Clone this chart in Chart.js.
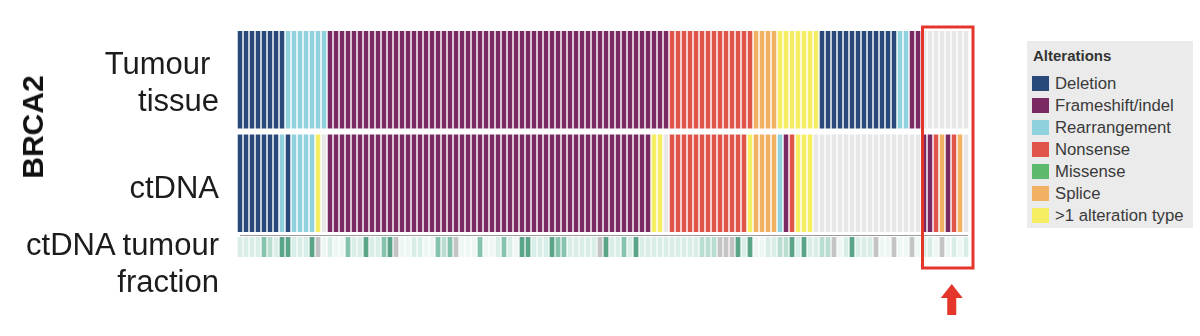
<!DOCTYPE html>
<html>
<head>
<meta charset="utf-8">
<script src="https://cdn.jsdelivr.net/npm/chart.js@4.4.1/dist/chart.umd.min.js"></script>
<style>
  html, body { margin: 0; padding: 0; background: #ffffff; }
  #wrap { position: relative; width: 1200px; height: 336px; overflow: hidden; font-family: "Liberation Sans", Arial, sans-serif; }
  canvas { position: absolute; left: 0; top: 0; }
  .lbl { position: absolute; right: 981px; font-size: 31px; line-height: 37px; color: #1c1c1c; text-align: right; white-space: pre; }
  #gene { position: absolute; left: 33px; top: 127px; font-size: 30px; font-weight: bold; color: #111; transform: translate(-50%, -50%) rotate(-90deg); white-space: nowrap; line-height: 30px; }
  #legend { position: absolute; left: 1027px; top: 41px; width: 166px; height: 187px; background: #ebebeb; }
  #legend .ttl { position: absolute; left: 6px; top: 6px; font-size: 15px; font-weight: bold; color: #333; }
  #legend .it { position: absolute; left: 5px; height: 17px; }
  #legend .sw { position: absolute; left: 0; top: 0; width: 17px; height: 15px; }
  #legend .tx { position: absolute; left: 23px; top: -2px; font-size: 16.7px; color: #3a3a3a; white-space: nowrap; line-height: 19px; }
</style>
</head>
<body>
<div id="wrap">
  <canvas id="c" width="1200" height="336"></canvas>
  <div id="gene">BRCA2</div>
  <div class="lbl" style="top:45px;">Tumour 
tissue</div>
  <div class="lbl" style="top:169px;">ctDNA</div>
  <div class="lbl" style="top:226px;">ctDNA tumour
fraction</div>
  <div id="legend"></div>
</div>
<script>
// ---------------- DATA ----------------
// Alteration codes per patient column:
// D=Deletion, F=Frameshift/indel, R=Rearrangement, N=Nonsense, M=Missense, S=Splice, X=>1 alteration type, -=none
const tumourTissue = (
  'DDDDDDDD' + 'RRRRRRR' +
  'FFFFFFFFFF' + 'FFFFFFFFFF' + 'FFFFFFFFFF' + 'FFFFFFFFFF' + 'FFFFFFFFFF' + 'FFFFFFF' +
  'NNNNNNNNNN' + 'NNNN' +
  'SSSS' + 'XXXXXXX' +
  'DDDDDDDDDD' + 'DDD' +
  'RR' + 'FF' +
  '--------'
).split('');

const ctDNA = (
  'DDDDDDD' + 'R' + 'D' + 'RRRR' + 'X' + '-' +
  'FFFFFFFFFF' + 'FFFFFFFFFF' + 'FFFFFFFFFF' + 'FFFFFFFFFF' + 'FFFFFFFFFF' + 'FFFF' +
  'XX' + '-' +
  'NNNNNNNNNN' + 'NNN' +
  'X' + 'SSSS' + 'R' + 'F' + 'N' + 'XXX' +
  '----------' + '--------' +
  'FFNSFNS-'
).split('');

// ctDNA tumour fraction level per column: 0 very low .. 4 high, 9 = not available
const tumourFraction = [
  1,1,1,1,3,2,1,4,4,1,
  1,1,4,9,0,1,0,0,3,1,
  1,4,1,1,3,4,9,0,0,1,
  1,0,0,3,2,3,9,0,0,0,
  3,0,0,1,3,1,0,4,4,1,
  1,1,4,3,3,1,1,1,1,1,
  9,4,1,1,3,1,4,1,1,1,
  1,1,1,1,1,1,1,2,2,2,
  9,9,9,4,1,4,0,0,1,1,
  2,2,4,1,4,1,1,2,2,9,
  0,1,4,1,1,1,9,0,0,9,
  0,0,9,0,1,1,0,9,0,1,
  0,1
];

const patients = tumourTissue.map((_, i) => 'P' + (i + 1));

const legendCodes  = ['D', 'F', 'R', 'N', 'M', 'S', 'X'];
const legendLabels = ['Deletion', 'Frameshift/indel', 'Rearrangement', 'Nonsense', 'Missense', 'Splice', '>1 alteration type'];

if (ctDNA.length !== tumourTissue.length || tumourFraction.length !== tumourTissue.length) {
  throw new Error('length mismatch ' + tumourTissue.length + ' ' + ctDNA.length + ' ' + tumourFraction.length);
}

// ---------------- STYLE ----------------
const altColors = {
  'D': '#28497a',
  'F': '#7b2963',
  'R': '#8fd2dd',
  'N': '#e0554a',
  'M': '#5dba6c',
  'S': '#f1b163',
  'X': '#f6ee62',
  '-': '#e7e7e7'
};
const fracColors = { 0: '#eef7f3', 1: '#d9eee6', 2: '#b9ded0', 3: '#86c3ac', 4: '#5aa487', 9: '#c4c4c4' };

// row extents in y-scale units (scale 0..227 maps to chart area)
const ROW_TUMOUR = [129.5, 227];
const ROW_CTDNA = [26, 123.5];
const ROW_FRAC = [1, 21];

const ds = (codes, range, cmap, bp) => ({
  data: codes.map(() => range),
  backgroundColor: codes.map(c => cmap[c]),
  borderWidth: 0,
  borderSkipped: false,
  grouped: false,
  barPercentage: bp,
  categoryPercentage: 1
});

// legend html
const leg = document.getElementById('legend');
const t = document.createElement('div'); t.className = 'ttl'; t.textContent = 'Alterations'; leg.appendChild(t);
legendCodes.forEach((c, i) => {
  const it = document.createElement('div'); it.className = 'it'; it.style.top = (35 + i * 22) + 'px';
  const sw = document.createElement('div'); sw.className = 'sw'; sw.style.background = altColors[c];
  const tx = document.createElement('div'); tx.className = 'tx'; tx.textContent = legendLabels[i];
  it.appendChild(sw); it.appendChild(tx); leg.appendChild(it);
});

const overlay = {
  id: 'overlay',
  afterDatasetsDraw(chart) {
    const ctx = chart.ctx, x = chart.scales.x, y = chart.scales.y;
    const half = (x.getPixelForValue(1) - x.getPixelForValue(0)) / 2;
    ctx.save();
    // separator line under ctDNA row
    ctx.strokeStyle = '#9a9a9a'; ctx.lineWidth = 1;
    ctx.beginPath();
    const ly = Math.round(y.getPixelForValue(23.5)) + 0.5;
    ctx.moveTo(x.getPixelForValue(0) - half + 3, ly);
    ctx.lineTo(x.getPixelForValue(patients.length - 1) + half - 1, ly);
    ctx.stroke();
    // red highlight box round the last columns
    const firstBox = patients.length - 8;
    const bx0 = x.getPixelForValue(firstBox) - half + 1.5;
    const bx1 = x.getPixelForValue(patients.length - 1) + half + 4;
    const by0 = y.getPixelForValue(231), by1 = y.getPixelForValue(-10);
    ctx.strokeStyle = '#e5362c'; ctx.lineWidth = 3;
    ctx.strokeRect(bx0, by0, bx1 - bx0, by1 - by0);
    // arrow
    const ax = (bx0 + bx1) / 2 + 4;
    ctx.fillStyle = '#e5362c';
    ctx.beginPath();
    ctx.moveTo(ax, 284);
    ctx.lineTo(ax + 11, 298);
    ctx.lineTo(ax + 4.5, 298);
    ctx.lineTo(ax + 4.5, 315);
    ctx.lineTo(ax - 4.5, 315);
    ctx.lineTo(ax - 4.5, 298);
    ctx.lineTo(ax - 11, 298);
    ctx.closePath();
    ctx.fill();
    ctx.restore();
  }
};

new Chart(document.getElementById('c'), {
  type: 'bar',
  data: {
    labels: patients,
    datasets: [
      ds(tumourTissue, ROW_TUMOUR, altColors, 0.76),
      ds(ctDNA, ROW_CTDNA, altColors, 0.76),
      ds(tumourFraction, ROW_FRAC, fracColors, 0.8)
    ]
  },
  options: {
    responsive: false,
    animation: false,
    devicePixelRatio: 1,
    layout: { padding: { left: 237, right: 231, top: 31, bottom: 78 } },
    scales: {
      x: { display: false },
      y: { display: false, min: 0, max: 227 }
    },
    plugins: { legend: { display: false }, tooltip: { enabled: false } }
  },
  plugins: [overlay]
});
</script>
</body>
</html>
